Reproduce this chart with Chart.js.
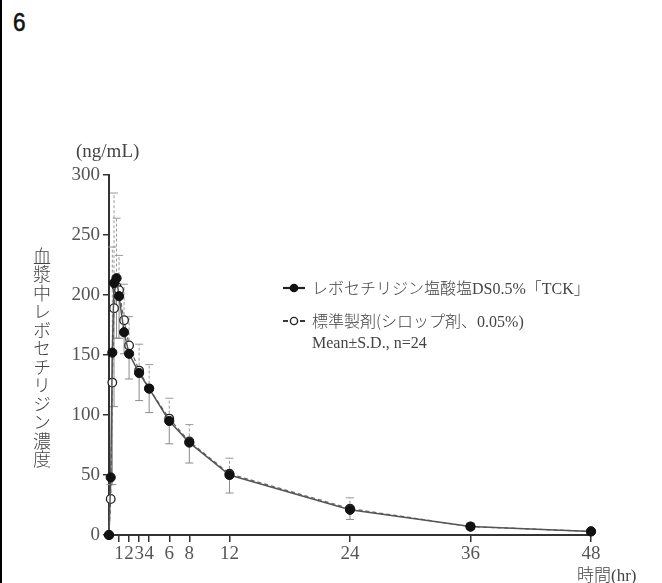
<!DOCTYPE html>
<html lang="ja">
<head>
  <meta charset="UTF-8" />
  <title>血漿中レボセチリジン濃度</title>
  <script src="https://cdn.jsdelivr.net/npm/chart.js"></script>
  <style>
    body {
      margin: 0;
      background: #fff;
      width: 662px;
      height: 583px;
      overflow: hidden;
      position: relative;
      font-family: "Liberation Serif", "Noto Sans CJK JP", serif;
      color: #444;
    }
    .edge {
      position: absolute;
      left: 0; top: 0;
      width: 2px; height: 583px;
      background: #000;
    }
    .fig-no {
      position: absolute;
      left: 13px; top: 8px;
      font-family: "Liberation Sans", Arial, sans-serif;
      font-size: 25px;
      color: #111;
      -webkit-text-stroke: 0.6px #111;
      transform: scaleX(0.9);
      transform-origin: left top;
    }
    canvas { position: absolute; left: 0; top: 0; }
    .unit {
      position: absolute;
      left: 76px; top: 140px;
      font-size: 19px;
      color: #444;
    }
    .ytitle {
      position: absolute;
      left: 33px; top: 247px;
      writing-mode: vertical-rl;
      font-family: "Noto Sans CJK JP", sans-serif;
      font-weight: 300;
      font-size: 18px;
      line-height: 1;
      letter-spacing: 0.5px;
      color: #444;
    }
    .xtitle {
      position: absolute;
      left: 577px; top: 561px;
      font-size: 17px;
      color: #444;
    }
    .xtitle span { font-family: "Noto Sans CJK JP", sans-serif; font-weight: 300; }
    .legend {
      position: absolute;
      left: 282px; top: 277px;
      font-size: 16px;
      color: #444;
      line-height: 21px;
    }
    .legend .row { display: flex; align-items: center; }
    .legend svg { width: 24px; height: 12px; margin-right: 6px; }
    .legend .jp { font-family: "Noto Sans CJK JP", sans-serif; font-weight: 300; }
  </style>
</head>
<body>
  <div class="edge"></div>
  <div class="fig-no">6</div>
  <canvas id="pk" width="662" height="583"></canvas>
  <div class="unit">(ng/mL)</div>
  <div class="ytitle">血漿中レボセチリジン濃度</div>
  <div class="xtitle"><span>時間</span>(hr)</div>
  <div class="legend">
    <div class="row" style="margin-bottom:11px">
      <svg viewBox="0 0 24 12"><line x1="1" y1="6" x2="23" y2="6" stroke="#222" stroke-width="2.2"/><circle cx="12" cy="6" r="4.3" fill="#111"/></svg>
      <span><span class="jp">レボセチリジン塩酸塩</span>DS0.5%<span class="jp">「</span>TCK<span class="jp">」</span></span>
    </div>
    <div class="row">
      <svg viewBox="0 0 24 12"><line x1="1" y1="6" x2="6" y2="6" stroke="#222" stroke-width="1.8"/><line x1="18" y1="6" x2="23" y2="6" stroke="#222" stroke-width="1.8"/><circle cx="12" cy="6" r="3.6" fill="#fff" stroke="#222" stroke-width="1.4"/></svg>
      <span><span class="jp">標準製剤(シロップ剤、</span>0.05%)</span>
    </div>
    <div style="padding-left:30px">Mean±S.D., n=24</div>
  </div>

  <script>
    // sampling times (hr)
    const hours = [0, 0.17, 0.33, 0.5, 0.75, 1, 1.5, 2, 3, 4, 6, 8, 12, 24, 36, 48];

    // levocetirizine DS 0.5% "TCK" (filled)
    const testMean = [0, 48, 152, 210, 214, 199, 169, 151, 135, 122, 95, 77, 50, 21, 7, 3];
    const testSD   = [0, 6, 110, 103, 50, 35, 18, 21, 23, 20, 19, 17, 15, 8, 2, 1];

    // reference syrup 0.05% (open)
    const refMean = [0, 30, 127, 189, 207, 204, 179, 158, 137, 122, 97, 78, 51, 22, 7, 3];
    const refSD   = [0, 12, 113, 96, 57, 29, 30, 24, 22, 20, 17, 14, 13, 9, 3, 1];

    const xTicks = [1, 2, 3, 4, 6, 8, 12, 24, 36, 48];
    const yTicks = [0, 50, 100, 150, 200, 250, 300];

    const toPoints = (ys) => hours.map((h, i) => ({ x: h, y: ys[i] }));

    // test bars go down (solid), reference bars go up (dashed)
    const errorBars = {
      id: 'errorBars',
      beforeDatasetsDraw(chart) {
        const ctx = chart.ctx;
        const y = chart.scales.y;
        const specs = [
          { idx: 0, mean: testMean, sd: testSD, dir: -1, dash: [], color: '#8a8a8a' },
          { idx: 1, mean: refMean, sd: refSD, dir: 1, dash: [3, 2], color: '#9a9a9a' }
        ];
        ctx.save();
        specs.forEach(s => {
          const meta = chart.getDatasetMeta(s.idx);
          ctx.strokeStyle = s.color;
          ctx.lineWidth = 1;
          ctx.setLineDash(s.dash);
          meta.data.forEach((pt, i) => {
            if (!s.sd[i]) return;
            const y0 = y.getPixelForValue(s.mean[i]);
            const y1 = y.getPixelForValue(s.mean[i] + s.dir * s.sd[i]);
            ctx.beginPath();
            ctx.moveTo(pt.x, y0);
            ctx.lineTo(pt.x, y1);
            ctx.stroke();
            ctx.setLineDash([]);
            ctx.beginPath();
            ctx.moveTo(pt.x - 4, y1);
            ctx.lineTo(pt.x + 4, y1);
            ctx.stroke();
            ctx.setLineDash(s.dash);
          });
        });
        ctx.restore();
      }
    };

    const tickFont = { family: '"Liberation Serif", serif', size: 19 };

    new Chart(document.getElementById('pk').getContext('2d'), {
      type: 'line',
      data: {
        datasets: [
          {
            label: 'レボセチリジン塩酸塩DS0.5%「TCK」',
            data: toPoints(testMean),
            borderColor: '#555',
            borderWidth: 1.5,
            pointRadius: 4.6,
            pointBackgroundColor: '#111',
            pointBorderColor: '#111',
            pointBorderWidth: 1,
            tension: 0,
            clip: false,
            order: 1
          },
          {
            label: '標準製剤(シロップ剤、0.05%)',
            data: toPoints(refMean),
            borderColor: '#666',
            borderWidth: 1.2,
            borderDash: [4, 3],
            pointRadius: 4.3,
            pointBackgroundColor: '#fff',
            pointBorderColor: '#222',
            pointBorderWidth: 1.3,
            tension: 0,
            clip: false,
            order: 2
          }
        ]
      },
      options: {
        responsive: false,
        animation: false,
        layout: { padding: { left: 0, top: 175, right: 71, bottom: 0 } },
        plugins: {
          legend: { display: false },
          tooltip: { enabled: false }
        },
        scales: {
          x: {
            type: 'linear',
            min: 0,
            max: 48,
            afterBuildTicks: s => { s.ticks = xTicks.map(v => ({ value: v })); },
            afterFit: s => { s.height = 48; },
            ticks: { font: tickFont, color: '#555', padding: 1, maxRotation: 0, autoSkip: false },
            grid: { drawOnChartArea: false, drawTicks: true, tickLength: 7, color: '#333', lineWidth: 1.5 },
            border: { display: true, color: '#333', width: 2 }
          },
          y: {
            min: 0,
            max: 300,
            afterBuildTicks: s => { s.ticks = yTicks.map(v => ({ value: v })); },
            afterFit: s => { s.width = 109; },
            ticks: { font: tickFont, color: '#555', padding: 3 },
            grid: { drawOnChartArea: false, drawTicks: true, tickLength: 6, color: '#333', lineWidth: 1.5 },
            border: { display: true, color: '#333', width: 2 }
          }
        }
      },
      plugins: [errorBars]
    });
  </script>
</body>
</html>
